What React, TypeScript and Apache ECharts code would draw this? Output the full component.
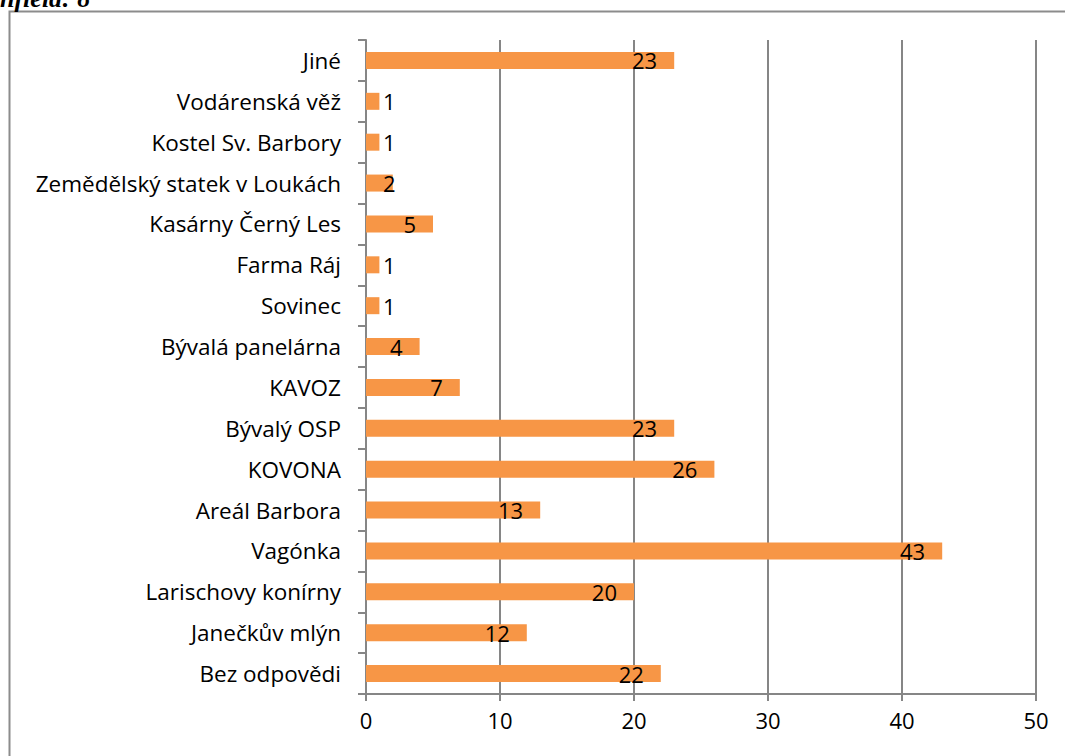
import React, { useEffect, useRef } from "react";
import * as echarts from "echarts";

const categories = [
  "Bez odpovědi",
  "Janečkův mlýn",
  "Larischovy konírny",
  "Vagónka",
  "Areál Barbora",
  "KOVONA",
  "Bývalý OSP",
  "KAVOZ",
  "Bývalá panelárna",
  "Sovinec",
  "Farma Ráj",
  "Kasárny Černý Les",
  "Zemědělský statek v Loukách",
  "Kostel Sv. Barbory",
  "Vodárenská věž",
  "Jiné",
];
const values = [22, 12, 20, 43, 13, 26, 23, 7, 4, 1, 1, 5, 2, 1, 1, 23];
const xTicks = { min: 0, max: 50, interval: 10 };
const titleText = "nfield: 8";

export default function App() {
  const ref = useRef<HTMLDivElement>(null);
  useEffect(() => {
    if (!ref.current) return;
    const chart = echarts.init(ref.current, null, { renderer: "svg" });
    const font = "'Open Sans', Lato, sans-serif";
    chart.setOption({
      animation: false,
      backgroundColor: "#ffffff",
      graphic: [
        {
          type: "rect",
          shape: { x: 9.5, y: 11.5, width: 1100, height: 800 },
          style: { fill: "none", stroke: "#8c8c8c", lineWidth: 2 },
          silent: true,
        },
        {
          type: "text",
          left: 0,
          top: -15,
          style: {
            text: titleText,
            font: "italic bold 26px 'Liberation Serif', serif",
            fill: "#000",
          },
        },
      ],
      grid: { left: 366, right: 29, top: 40, bottom: 62, containLabel: false },
      xAxis: {
        type: "value",
        min: xTicks.min,
        max: xTicks.max,
        interval: xTicks.interval,
        axisLine: { show: true, lineStyle: { color: "#868686", width: 2 } },
        axisTick: { show: true, length: 7, lineStyle: { color: "#868686", width: 2 } },
        splitLine: { show: true, lineStyle: { color: "#868686", width: 2 } },
        axisLabel: { color: "#000", fontSize: 22, fontFamily: font, margin: 15 },
      },
      yAxis: {
        type: "category",
        data: categories,
        axisLine: { show: true, lineStyle: { color: "#868686", width: 2 } },
        axisTick: { show: true, length: 8, lineStyle: { color: "#868686", width: 2 } },
        axisLabel: { color: "#000", fontSize: 22.5, fontFamily: font, margin: 25 },
      },
      series: [
        {
          type: "bar",
          barWidth: 17,
          itemStyle: { color: "#F79646" },
          data: values.map((v) => ({
            value: v,
            label:
              v <= 2
                ? { show: true, position: "insideLeft", distance: 17 }
                : { show: true, position: "insideRight", distance: 17 },
          })),
          label: {
            show: true,
            color: "#000",
            fontSize: 22,
            fontFamily: font,
          },
        },
      ],
    });
    return () => chart.dispose();
  }, []);
  return (
    <div
      ref={ref}
      style={{ position: "absolute", left: 0, top: 0, width: 1065, height: 756 }}
    />
  );
}
